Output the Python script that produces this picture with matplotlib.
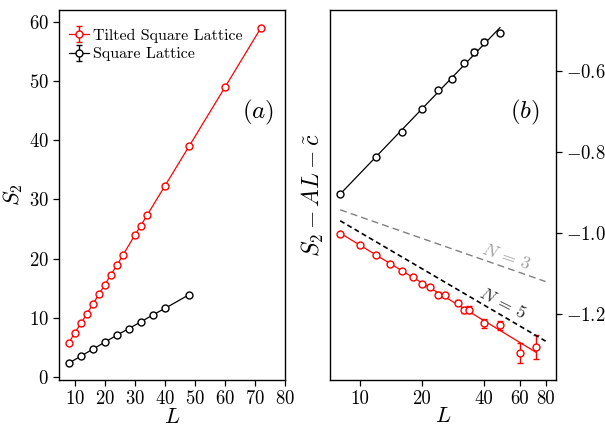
import numpy as np
import matplotlib
matplotlib.use("Agg")
import matplotlib.pyplot as plt
from matplotlib.ticker import NullLocator

plt.rcParams["font.family"] = "serif"
plt.rcParams["font.serif"] = ["cmr10"]
plt.rcParams["mathtext.fontset"] = "cm"
plt.rcParams["axes.formatter.use_mathtext"] = True
plt.rcParams["axes.unicode_minus"] = True

# system sizes
L_tilted = np.array([8, 10, 12, 14, 16, 18, 20, 22, 24, 26, 30, 32, 34, 40, 48, 60, 72])
L_square = np.array([8, 12, 16, 20, 24, 28, 32, 36, 40, 48])

# (a) Renyi entropy S2
S2_tilted = [5.8, 7.5, 9.05, 10.7, 12.3, 14.0, 15.6, 17.3, 18.9, 20.6,
             24.0, 25.6, 27.3, 32.3, 38.95, 48.96, 59.0]
S2_tilted_err = [0.25] * len(L_tilted)
S2_square = [2.36, 3.54, 4.72, 5.9, 7.08, 8.2, 9.33, 10.5, 11.6, 13.9]
S2_square_err = [0.2] * len(L_square)

# (b) subleading part S2 - AL - c~
sub_tilted = [-1.0025, -1.0296, -1.0528, -1.075, -1.092, -1.107, -1.124, -1.132,
              -1.152, -1.152, -1.171, -1.189, -1.188, -1.222, -1.227, -1.296, -1.281]
sub_tilted_err = [0.003, 0.003, 0.003, 0.003, 0.003, 0.004, 0.005, 0.005,
                  0.006, 0.005, 0.006, 0.008, 0.008, 0.011, 0.0115, 0.025, 0.03]
sub_square = [-0.902, -0.8116, -0.75, -0.694, -0.647, -0.620, -0.579, -0.552, -0.527, -0.506]
sub_square_err = [0.003, 0.003, 0.003, 0.003, 0.003, 0.005, 0.005, 0.007, 0.006, 0.005]

# reference slopes for N = 3 and N = 5
L_ref = [8, 80]
ref_N3 = [-0.942, -1.119]
ref_N5 = [-0.969, -1.266]

RED = "#ff0000"

fig = plt.figure(figsize=(6.05, 4.28), dpi=100)
ax1 = fig.add_axes([0.0975, 0.1121, 0.3736, 0.8645])
ax2 = fig.add_axes([0.5455, 0.1121, 0.3736, 0.8645])

mk = dict(marker="o", ms=5, mfc="white", mew=1.0, capsize=2.5, elinewidth=1.0, lw=0.9)

ax1.errorbar(L_tilted, S2_tilted, yerr=S2_tilted_err, color=RED, label="Tilted Square Lattice", **mk)
ax1.errorbar(L_square, S2_square, yerr=S2_square_err, color="black", label="Square Lattice", **mk)
ax1.set_xlim(4.7, 80)
ax1.set_ylim(-0.5, 62)
ax1.set_xticks(np.arange(10, 81, 10))
ax1.set_yticks(np.arange(0, 61, 10))
ax1.set_xlabel(r"$L$", fontsize=16, labelpad=-1)
ax1.set_ylabel(r"$S_2$", fontsize=16)
ax1.yaxis.set_label_coords(-0.15, 0.5)
ax1.text(0.88, 0.724, r"$(a)$", transform=ax1.transAxes, fontsize=18, ha="center", va="center")
ax1.legend(loc="upper left", frameon=False, fontsize=11.5, handlelength=1.3,
           handletextpad=0.25, borderaxespad=0.2, labelspacing=0.25,
           bbox_to_anchor=(0.0, 0.975))

# (b) log-scale in L
pk = dict(marker="o", ms=5, mfc="white", mew=1.0, capsize=2.5, elinewidth=1.0, ls="none")
ax2.errorbar(L_tilted, sub_tilted, yerr=sub_tilted_err, color=RED, **pk)
ax2.errorbar(L_square, sub_square, yerr=sub_square_err, color="black", **pk)

for L, y, c in [(L_tilted, sub_tilted, RED), (L_square, sub_square, "black")]:
    b, a = np.polyfit(np.log(L), y, 1)
    xs = np.linspace(min(L), max(L), 50)
    ax2.plot(xs, a + b * np.log(xs), color=c, lw=0.9)

ax2.plot(L_ref, ref_N3, color="#808080", lw=1.0, dashes=(5, 3))
ax2.plot(L_ref, ref_N5, color="black", lw=1.2, dashes=(3, 2))
ax2.text(51.5, -1.0585, r"$N\,=\,3$", color="#a0a0a0", fontsize=13, rotation=-19,
         ha="center", va="center")
ax2.text(49.8, -1.172, r"$N\,=\,5$", color="#303030", fontsize=13, rotation=-27,
         ha="center", va="center")

ax2.set_xscale("log")
ax2.set_xlim(7.14, 90)
ax2.set_ylim(-1.362, -0.449)
ax2.set_xticks([10, 20, 40, 60, 80])
ax2.set_xticklabels(["10", "20", "40", "60", "80"])
ax2.xaxis.set_minor_locator(NullLocator())
ax2.set_yticks([-1.2, -1.0, -0.8, -0.6])
ax2.yaxis.tick_right()
ax2.set_xlabel(r"$L$", fontsize=16, labelpad=-1)
ax2.set_ylabel(r"$S_2 - AL - \tilde{c}$", fontsize=17, labelpad=3)
ax2.text(0.863, 0.724, r"$(b)$", transform=ax2.transAxes, fontsize=18, ha="center", va="center")

for ax in (ax1, ax2):
    ax.tick_params(labelsize=13.5, length=4, width=0.9, direction="out")
    for s in ax.spines.values():
        s.set_linewidth(1.0)

fig.savefig("out.png", dpi=100)
